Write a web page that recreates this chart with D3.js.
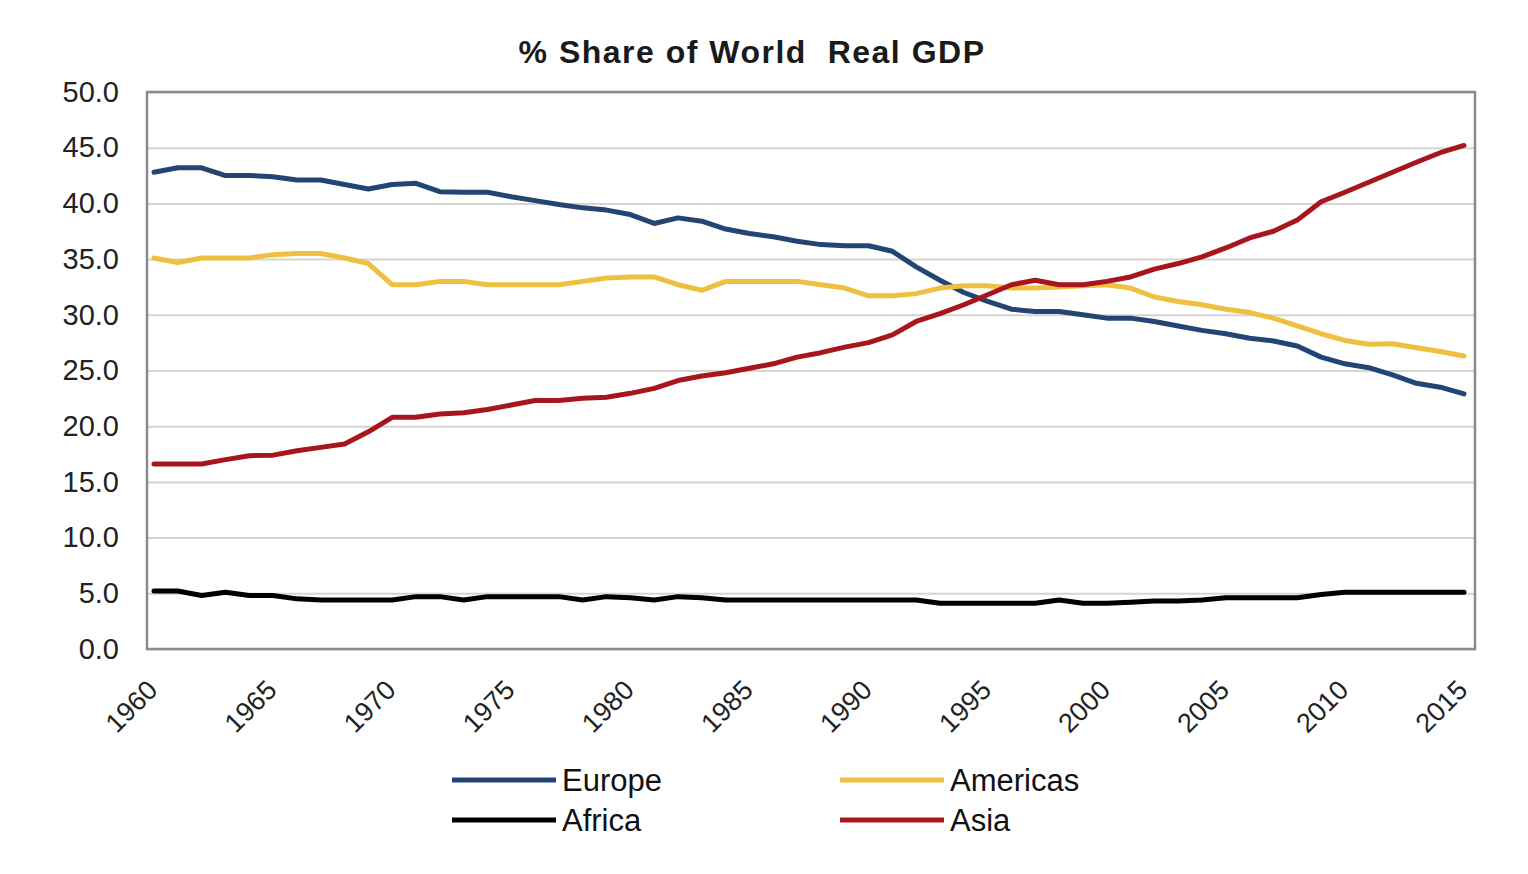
<!DOCTYPE html>
<html>
<head>
<meta charset="utf-8">
<script src="https://cdn.jsdelivr.net/npm/d3@7"></script>
<style>
    body { margin: 0; background: #fff; }
    svg { display: block; font-family: "Liberation Sans", Arial, sans-serif; }
</style>
</head>
<body>
<div id="chart"></div>
<script>
var years = d3.range(1960, 2016);

var europe = [42.8, 43.2, 43.2, 42.5, 42.5, 42.4, 42.1, 42.1, 41.7, 41.3,
    41.7, 41.8, 41.05, 41.0, 41.0, 40.6, 40.25, 39.9, 39.6, 39.4,
    39.0, 38.2, 38.7, 38.4, 37.7, 37.3, 37.0, 36.6, 36.3, 36.2,
    36.2, 35.7, 34.3, 33.1, 32.0, 31.2, 30.5, 30.3, 30.3, 30.0,
    29.7, 29.7, 29.4, 29.0, 28.6, 28.3, 27.9, 27.65, 27.2, 26.2,
    25.6, 25.25, 24.6, 23.85, 23.5, 22.9];

var americas = [35.1, 34.7, 35.1, 35.1, 35.1, 35.4, 35.5, 35.5, 35.1, 34.6,
    32.7, 32.7, 33.0, 33.0, 32.7, 32.7, 32.7, 32.7, 33.0, 33.3,
    33.4, 33.4, 32.7, 32.2, 33.0, 33.0, 33.0, 33.0, 32.7, 32.4,
    31.7, 31.7, 31.9, 32.4, 32.6, 32.6, 32.4, 32.4, 32.5, 32.6,
    32.7, 32.4, 31.6, 31.2, 30.9, 30.5, 30.2, 29.7, 29.0, 28.3,
    27.7, 27.35, 27.4, 27.05, 26.7, 26.3];

var africa = [5.2, 5.2, 4.8, 5.1, 4.8, 4.8, 4.5, 4.4, 4.4, 4.4,
    4.4, 4.7, 4.7, 4.4, 4.7, 4.7, 4.7, 4.7, 4.4, 4.7,
    4.6, 4.4, 4.7, 4.6, 4.4, 4.4, 4.4, 4.4, 4.4, 4.4,
    4.4, 4.4, 4.4, 4.1, 4.1, 4.1, 4.1, 4.1, 4.4, 4.1,
    4.1, 4.2, 4.3, 4.3, 4.4, 4.6, 4.6, 4.6, 4.6, 4.9,
    5.1, 5.1, 5.1, 5.1, 5.1, 5.1];

var asia = [16.6, 16.6, 16.6, 17.0, 17.35, 17.4, 17.8, 18.1, 18.4, 19.5,
    20.8, 20.8, 21.1, 21.2, 21.5, 21.9, 22.3, 22.3, 22.5, 22.6,
    22.95, 23.4, 24.1, 24.5, 24.8, 25.2, 25.6, 26.2, 26.6, 27.1,
    27.5, 28.2, 29.4, 30.1, 30.9, 31.8, 32.7, 33.1, 32.7, 32.7,
    33.0, 33.4, 34.1, 34.6, 35.2, 36.0, 36.9, 37.5, 38.5, 40.15,
    41.0, 41.9, 42.8, 43.7, 44.55, 45.2];

var yTicks = [0, 5, 10, 15, 20, 25, 30, 35, 40, 45, 50];
var xTicks = [1960, 1965, 1970, 1975, 1980, 1985, 1990, 1995, 2000, 2005, 2010, 2015];

var series = [
    { name: 'Europe', values: europe, colour: '#234574' },
    { name: 'Americas', values: americas, colour: '#eec03f' },
    { name: 'Africa', values: africa, colour: '#000000' },
    { name: 'Asia', values: asia, colour: '#a8161d' }
];

var width = 1528;
var height = 874;

var frame = { left: 147, right: 1475, top: 92, bottom: 649 };

var x = d3.scaleLinear()
    .domain([1960, 2015])
    .range([154, 1464]);

var y = d3.scaleLinear()
    .domain([0, 50])
    .range([frame.bottom, frame.top]);

var svg = d3.select('#chart')
    .append('svg')
    .attr('width', width)
    .attr('height', height);

// title
svg.append('text')
    .attr('x', 752)
    .attr('y', 63)
    .attr('text-anchor', 'middle')
    .style('font-size', '32px')
    .style('font-weight', 'bold')
    .style('letter-spacing', '1.5px')
    .style('fill', '#1a1a1a')
    .style('white-space', 'pre')
    .text('% Share of World  Real GDP');

// gridlines
var grid = svg.append('g')
    .attr('transform', 'translate(' + frame.left + ',0)')
    .call(d3.axisLeft(y)
        .tickValues(yTicks)
        .tickSize(-(frame.right - frame.left))
        .tickFormat(''));
grid.select('.domain').remove();
grid.selectAll('.tick line')
    .style('stroke', '#d4d4d4')
    .style('stroke-width', '2px');

// plot frame
svg.append('rect')
    .attr('x', frame.left)
    .attr('y', frame.top)
    .attr('width', frame.right - frame.left)
    .attr('height', frame.bottom - frame.top)
    .style('fill', 'none')
    .style('stroke', '#8a8a8a')
    .style('stroke-width', '2.5px');

// y axis labels
var yAxis = svg.append('g')
    .attr('transform', 'translate(' + frame.left + ',0)')
    .call(d3.axisLeft(y)
        .tickValues(yTicks)
        .tickSize(0)
        .tickPadding(28)
        .tickFormat(d3.format('.1f')));
yAxis.select('.domain').remove();
yAxis.selectAll('text')
    .style('font-family', '"Liberation Sans", Arial, sans-serif')
    .style('font-size', '29px')
    .style('fill', '#222');

// x axis labels
var xAxis = svg.append('g')
    .attr('transform', 'translate(0,' + frame.bottom + ')')
    .call(d3.axisBottom(x)
        .tickValues(xTicks)
        .tickSize(0)
        .tickFormat(d3.format('d')));
xAxis.select('.domain').remove();
xAxis.selectAll('text')
    .attr('x', 0)
    .attr('y', 0)
    .attr('dy', '0.35em')
    .attr('text-anchor', 'end')
    .attr('transform', 'translate(-2,36) rotate(-45)')
    .style('font-family', '"Liberation Sans", Arial, sans-serif')
    .style('font-size', '27px')
    .style('fill', '#222');

// lines
var line = d3.line()
    .x(function(d, i) { return x(years[i]); })
    .y(function(d) { return y(d); });

svg.append('g')
    .attr('class', 'lines')
    .selectAll('path')
    .data(series)
    .enter()
    .append('path')
    .attr('d', function(d) { return line(d.values); })
    .style('fill', 'none')
    .style('stroke', function(d) { return d.colour; })
    .style('stroke-width', '5px')
    .style('stroke-linejoin', 'round')
    .style('stroke-linecap', 'round');

// legend
var legendPos = [
    { x: 452, y: 780 },
    { x: 840, y: 780 },
    { x: 452, y: 820 },
    { x: 840, y: 820 }
];

var legend = svg.append('g')
    .attr('class', 'legend')
    .selectAll('g')
    .data(series)
    .enter()
    .append('g')
    .attr('transform', function(d, i) {
        return 'translate(' + legendPos[i].x + ',' + legendPos[i].y + ')';
    });

legend.append('line')
    .attr('x1', 0)
    .attr('x2', 104)
    .style('stroke', function(d) { return d.colour; })
    .style('stroke-width', '5px');

legend.append('text')
    .attr('x', 110)
    .attr('dy', '0.36em')
    .style('font-size', '31px')
    .style('fill', '#111')
    .text(function(d) { return d.name; });
</script>
</body>
</html>
